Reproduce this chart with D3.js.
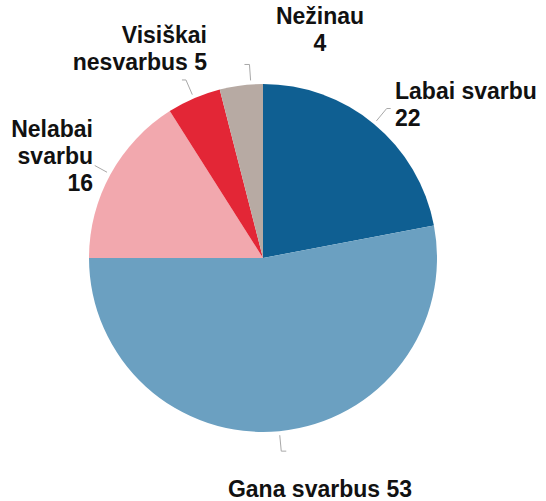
<!DOCTYPE html>
<html>
<head>
<meta charset="utf-8">
<script src="https://cdn.jsdelivr.net/npm/d3@7"></script>
<style>
  body { margin: 0; background: #fff; }
  text { font-family: "Liberation Sans", Arial, sans-serif; font-weight: bold; }
</style>
</head>
<body>
<div id="chart"></div>
<script>
// data
const categories = ['Labai svarbu', 'Gana svarbus', 'Nelabai svarbu', 'Visiškai nesvarbus', 'Nežinau']
const values = [22, 53, 16, 5, 4]
const colors = ['#0f5f92', '#6ba0c1', '#f2a8ae', '#e32636', '#b7aaa3']

// label text lines, and where each label sits relative to its slice
const labelLines = [
  ['Labai svarbu', '22'],
  ['Gana svarbus 53'],
  ['Nelabai', 'svarbu', '16'],
  ['Visiškai', 'nesvarbus 5'],
  ['Nežinau', '4']
]
const labelLayout = [
  { x: 395, y: 99, anchor: 'start', leadAngle: 39.6, tick: 4 },
  { x: 320, y: 497, anchor: 'middle', leadAngle: 174.6, tick: 5 },
  { x: 93, y: 137, anchor: 'end', leadAngle: 298.8, tick: 0 },
  { x: 207, y: 43, anchor: 'end', leadAngle: 336.6, tick: -4 },
  { x: 320, y: 24, anchor: 'middle', leadAngle: 356, tick: -5 }
]

const width = 546, height = 501
const cx = 263, cy = 258, radius = 174
const lineHeight = 27

const svg = d3.select('#chart')
  .append('svg')
  .attr('width', width)
  .attr('height', height)

const g = svg.append('g')
  .attr('transform', 'translate(' + cx + ',' + cy + ')')

const pie = d3.pie().sort(null).value(function (d) { return d })
const arcs = pie(values)

const arc = d3.arc().innerRadius(0).outerRadius(radius)

g.selectAll('path')
  .data(arcs)
  .enter()
  .append('path')
  .attr('d', arc)
  .attr('fill', function (d, i) { return colors[i] })

// leader lines
function polar(angleDeg, r) {
  const a = angleDeg * Math.PI / 180
  return [r * Math.sin(a), -r * Math.cos(a)]
}

g.selectAll('polyline')
  .data(labelLayout)
  .enter()
  .append('polyline')
  .attr('points', function (d, i) {
    const p1 = polar(d.leadAngle, radius + 4)
    const p2 = polar(d.leadAngle, radius + (i === 2 ? 18 : 20))
    const pts = [p1, p2]
    if (d.tick) pts.push([p2[0] + d.tick, p2[1]])
    return pts.map(function (p) { return p.join(',') }).join(' ')
  })
  .attr('fill', 'none')
  .attr('stroke', '#a8a8a8')
  .attr('stroke-width', 1)

// labels
const labels = svg.selectAll('text.label')
  .data(labelLayout)
  .enter()
  .append('text')
  .attr('class', 'label')
  .attr('x', function (d) { return d.x })
  .attr('y', function (d) { return d.y })
  .attr('text-anchor', function (d) { return d.anchor })
  .style('font-size', '23px')
  .attr('fill', '#111')

labels.selectAll('tspan')
  .data(function (d, i) { return labelLines[i].map(function (t) { return { t: t, x: d.x } }) })
  .enter()
  .append('tspan')
  .attr('x', function (d) { return d.x })
  .attr('dy', function (d, j) { return j === 0 ? 0 : lineHeight })
  .text(function (d) { return d.t })
</script>
</body>
</html>
